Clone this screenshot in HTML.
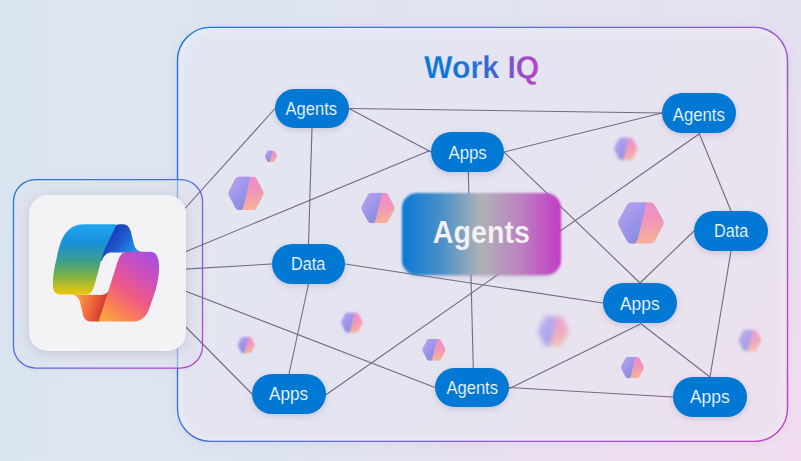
<!DOCTYPE html>
<html><head><meta charset="utf-8">
<style>
html,body{margin:0;padding:0;width:801px;height:461px;overflow:hidden;}
body{background:radial-gradient(ellipse 520px 380px at 100% 100%,rgba(242,222,240,1) 0%,rgba(242,222,240,0.6) 45%,rgba(242,222,240,0) 100%),linear-gradient(90deg,#dbe5f1 0%,#dde4f0 35%,#e2e2f0 70%,#e5e0f0 100%);font-family:"Liberation Sans",sans-serif;}
svg{position:absolute;left:0;top:0;}
</style></head>
<body>
<svg width="801" height="461" viewBox="0 0 801 461">
<defs>
  <linearGradient id="bigBorder" x1="177" y1="27" x2="811" y2="413" gradientUnits="userSpaceOnUse">
    <stop offset="0" stop-color="#1677d8"/>
    <stop offset="0.2" stop-color="#3a74d8"/>
    <stop offset="0.4" stop-color="#5070d8"/>
    <stop offset="0.55" stop-color="#7462d4"/>
    <stop offset="0.7" stop-color="#9a54d0"/>
    <stop offset="0.85" stop-color="#b04cd0"/>
    <stop offset="1" stop-color="#bc42c8"/>
  </linearGradient>
  <linearGradient id="bigFill" x1="177" y1="27" x2="788" y2="441" gradientUnits="userSpaceOnUse">
    <stop offset="0" stop-color="#e2e7f2"/>
    <stop offset="0.5" stop-color="#e5e4f0"/>
    <stop offset="1" stop-color="#ede1ef"/>
  </linearGradient>
  <linearGradient id="smallBorder" x1="13" y1="179" x2="203" y2="368" gradientUnits="userSpaceOnUse">
    <stop offset="0" stop-color="#1677d8"/>
    <stop offset="0.5" stop-color="#5070d8"/>
    <stop offset="0.72" stop-color="#8a58d4"/>
    <stop offset="1" stop-color="#c040c8"/>
  </linearGradient>
  <linearGradient id="hexL" x1="0" y1="0.1" x2="0.55" y2="0.9">
    <stop offset="0" stop-color="#b8a2f2"/>
    <stop offset="1" stop-color="#8c8ee6"/>
  </linearGradient>
  <linearGradient id="hexR" x1="0" y1="0" x2="0.15" y2="1">
    <stop offset="0" stop-color="#ec8ece"/>
    <stop offset="0.5" stop-color="#f094bc"/>
    <stop offset="1" stop-color="#f6b09a"/>
  </linearGradient>
  <linearGradient id="center" x1="402" y1="0" x2="561" y2="0" gradientUnits="userSpaceOnUse">
    <stop offset="0" stop-color="#0b78d4"/>
    <stop offset="0.25" stop-color="#4a90c8"/>
    <stop offset="0.5" stop-color="#b0b2b6"/>
    <stop offset="0.75" stop-color="#bc80c0"/>
    <stop offset="1" stop-color="#c23cc6"/>
  </linearGradient>
  <linearGradient id="title" x1="425" y1="0" x2="539" y2="0" gradientUnits="userSpaceOnUse">
    <stop offset="0" stop-color="#0a78d6"/>
    <stop offset="0.3" stop-color="#1474d6"/>
    <stop offset="0.5" stop-color="#2a6cd4"/>
    <stop offset="0.66" stop-color="#4a60d0"/>
    <stop offset="0.76" stop-color="#8050c8"/>
    <stop offset="1" stop-color="#c040c8"/>
  </linearGradient>
  <filter id="boxShadow" x="-10%" y="-10%" width="120%" height="120%" color-interpolation-filters="sRGB"><feDropShadow dx="0" dy="1" stdDeviation="5" flood-color="#6a5a90" flood-opacity="0.10"/></filter>
  <filter id="blurGlow" x="-10%" y="-10%" width="120%" height="120%"><feGaussianBlur stdDeviation="1.5"/></filter>
  <filter id="blurS" x="-50%" y="-50%" width="200%" height="200%"><feGaussianBlur stdDeviation="0.7"/></filter>
  <filter id="blurH9b" x="-50%" y="-50%" width="200%" height="200%"><feGaussianBlur stdDeviation="2.4"/></filter>
  <filter id="blur1" x="-50%" y="-50%" width="200%" height="200%"><feGaussianBlur stdDeviation="1"/></filter>
  <filter id="blur2" x="-50%" y="-50%" width="200%" height="200%"><feGaussianBlur stdDeviation="2"/></filter>
  <filter id="blurH4" x="-50%" y="-50%" width="200%" height="200%"><feGaussianBlur stdDeviation="1.3"/></filter>
  <filter id="blurH6" x="-50%" y="-50%" width="200%" height="200%"><feGaussianBlur stdDeviation="0.9"/></filter>
  <filter id="blurH9" x="-50%" y="-50%" width="200%" height="200%"><feGaussianBlur stdDeviation="1.8"/></filter>
  <filter id="blurC" x="-20%" y="-20%" width="140%" height="140%"><feGaussianBlur stdDeviation="1.2"/></filter>
  <filter id="pillShadow" color-interpolation-filters="sRGB" x="-30%" y="-50%" width="160%" height="200%">
    <feDropShadow dx="0" dy="2" stdDeviation="3" flood-color="#503070" flood-opacity="0.18"/>
  </filter>
  <filter id="cardShadow" color-interpolation-filters="sRGB" x="-30%" y="-30%" width="160%" height="160%">
    <feDropShadow dx="0" dy="2" stdDeviation="5" flood-color="#404070" flood-opacity="0.16"/>
  </filter>
  <symbol id="hex" viewBox="0 0 100 92" preserveAspectRatio="none">
    <path d="M4.2 54.0 Q0.0 46.0 4.2 38.0 L20.8 6.2 Q24.0 0.0 31.0 0.0 L69.0 0.0 Q76.0 0.0 79.2 6.2 L95.8 38.0 Q100.0 46.0 95.8 54.0 L79.2 85.8 Q76.0 92.0 69.0 92.0 L31.0 92.0 Q24.0 92.0 20.8 85.8 Z" fill="url(#hexR)"/>
    <path d="M62 0 L31.0 0.0 Q24 0 20.8 6.2 L4.2 38.0 Q0 46 4.2 54.0 L20.8 85.8 Q24 92 31.0 92.0 L37 92 Q43 86 46 70 Z" fill="url(#hexL)"/>
  </symbol>
  <linearGradient id="cpL" x1="0" y1="224" x2="0" y2="295" gradientUnits="userSpaceOnUse">
    <stop offset="0" stop-color="#22a6f0"/>
    <stop offset="0.25" stop-color="#1690dc"/>
    <stop offset="0.52" stop-color="#3c9c8c"/>
    <stop offset="0.72" stop-color="#78b048"/>
    <stop offset="0.9" stop-color="#c8c020"/>
    <stop offset="1" stop-color="#eec400"/>
  </linearGradient>
  <linearGradient id="cpFold" x1="112" y1="232" x2="136" y2="250" gradientUnits="userSpaceOnUse">
    <stop offset="0" stop-color="#1a3cbc"/>
    <stop offset="0.5" stop-color="#2060d0"/>
    <stop offset="1" stop-color="#1e96ea"/>
  </linearGradient>
  <linearGradient id="cpR" x1="160" y1="252" x2="110" y2="322" gradientUnits="userSpaceOnUse">
    <stop offset="0" stop-color="#9c50e6"/>
    <stop offset="0.35" stop-color="#d050b8"/>
    <stop offset="0.6" stop-color="#f05a84"/>
    <stop offset="0.82" stop-color="#f88058"/>
    <stop offset="1" stop-color="#f8a440"/>
  </linearGradient>
  <linearGradient id="cpFold2" x1="78" y1="298" x2="106" y2="307" gradientUnits="userSpaceOnUse">
    <stop offset="0" stop-color="#fa9a48"/>
    <stop offset="0.5" stop-color="#f06838"/>
    <stop offset="1" stop-color="#cc3430"/>
  </linearGradient>
</defs>

<!-- big box -->
<rect x="177.5" y="27.4" width="610" height="414" rx="33" fill="url(#bigFill)" filter="url(#boxShadow)"/>
<rect x="181" y="31" width="603" height="407" rx="30" fill="none" stroke="#ffffff" stroke-opacity="0.2" stroke-width="3" filter="url(#blurGlow)"/>
<rect x="177.5" y="27.4" width="610" height="414" rx="33" fill="none" stroke="url(#bigBorder)" stroke-width="1.4"/>

<!-- small box -->
<rect x="13.5" y="179.5" width="189" height="188.5" rx="22" fill="#e2e5f1" fill-opacity="0.55" filter="url(#boxShadow)"/>
<rect x="13.5" y="179.5" width="189" height="188.5" rx="22" fill="none" stroke="url(#smallBorder)" stroke-width="1.25"/>

<!-- lines -->
<g stroke="#746a80" stroke-width="1.1" fill="none">
  <line x1="180" y1="214" x2="275" y2="108.5"/>
  <line x1="180" y1="253.9" x2="430" y2="150.6"/>
  <line x1="180" y1="269.4" x2="272" y2="264"/>
  <line x1="180" y1="289" x2="435" y2="387.5"/>
  <line x1="180" y1="321" x2="252" y2="394"/>
  <line x1="349" y1="108.5" x2="662" y2="113"/>
  <line x1="349" y1="108.5" x2="431" y2="152"/>
  <line x1="312" y1="128" x2="308.5" y2="244"/>
  <line x1="504" y1="152" x2="662" y2="113"/>
  <line x1="468.3" y1="172" x2="473.3" y2="368"/>
  <line x1="504" y1="152" x2="640" y2="283"/>
  <line x1="699" y1="133" x2="731" y2="211"/>
  <line x1="699" y1="134" x2="326" y2="394.8"/>
  <line x1="694" y1="231" x2="640" y2="283"/>
  <line x1="731" y1="251" x2="710" y2="377"/>
  <line x1="345" y1="264" x2="603" y2="303"/>
  <line x1="308.5" y1="284" x2="289" y2="374"/>
  <line x1="640" y1="323" x2="710" y2="377"/>
  <line x1="640" y1="324.2" x2="509" y2="388.7"/>
  <line x1="509" y1="387.5" x2="673" y2="397"/>
</g>

<!-- card -->
<rect x="29" y="195" width="157" height="156" rx="18.5" fill="#f3f3f6" filter="url(#cardShadow)"/>

<!-- copilot logo -->
<g>
  <path d="M100 252.4 L113 228 Q115.5 224.3 120 224.3 L123.5 224.3 Q128.5 224.3 130.8 231.5 L133.8 244 Q136 252.4 144 252.4 L110.8 252.4 Q105 252.6 101.6 261 L97 261 Z" fill="url(#cpFold)"/>
  <path d="M72 294.5 Q78 295 80 302 L83 315 Q85 321.4 90 321.4 L100 321.4 L112 284 Q109 295 101 295 Z" fill="url(#cpFold2)"/>
  <path d="M84 224.3 L115.5 224.3 Q117 224.3 114 230 Q109 240 104.5 250 Q101.5 257 100 265 L94 287 Q91.5 294.5 86 294.5 L60 294.5 Q52.5 294.5 52.8 284 Q53 272 56.5 259 C59.5 245 63.5 224.3 84 224.3 Z" fill="url(#cpL)"/>
  <path d="M128 251.8 L150 251.8 Q158.5 251.8 159 265 Q159.5 277 155 292 L150.5 305 Q146 321.4 134 321.4 L98.6 321.4 L117.5 262 Q120 251.8 128 251.8 Z" fill="url(#cpR)"/>
</g>

<!-- hexagons -->
<use href="#hex" x="264.8" y="150.6" width="12.4" height="11.4" filter="url(#blurS)"/>
<use href="#hex" x="227.8" y="176.6" width="36.5" height="33.5"/>
<use href="#hex" x="360.8" y="192.8" width="34.5" height="30.5"/>
<use href="#hex" x="613.8" y="137.5" width="24" height="22.5" filter="url(#blurH9)" opacity="0.95"/>
<use href="#hex" x="617.2" y="202.2" width="47.5" height="41.5"/>
<use href="#hex" x="340.7" y="312.4" width="22.2" height="20.4" filter="url(#blurH6)"/>
<use href="#hex" x="237.4" y="336.9" width="17.6" height="16.4" filter="url(#blurH6)"/>
<use href="#hex" x="422" y="339" width="24" height="21.7"/>
<use href="#hex" x="537.3" y="316" width="32" height="30" filter="url(#blurH9b)" opacity="0.75"/>
<use href="#hex" x="620.7" y="356.7" width="23.6" height="21.5"/>
<use href="#hex" x="738.3" y="329.6" width="23.4" height="21.6" filter="url(#blurH9)" opacity="0.8"/>

<!-- pills -->
<g fill="#0078d4" filter="url(#pillShadow)">
  <rect x="275" y="89" width="74" height="39" rx="19.5"/>
  <rect x="662" y="93" width="74" height="40" rx="20"/>
  <rect x="431" y="132" width="73" height="40" rx="20"/>
  <rect x="694" y="211" width="74" height="40" rx="20"/>
  <rect x="272" y="244" width="73" height="40" rx="20"/>
  <rect x="603" y="283" width="74" height="40" rx="20"/>
  <rect x="252" y="374" width="74" height="40" rx="20"/>
  <rect x="435" y="368" width="74" height="39" rx="19.5"/>
  <rect x="673" y="377" width="74" height="40" rx="20"/>
</g>
<g fill="#ffffff" stroke="#0078d4" stroke-width="0.2" font-family="Liberation Sans, sans-serif" font-size="17.5">
  <text x="285.60" y="115.20" textLength="51.40" lengthAdjust="spacingAndGlyphs">Agents</text>
  <text x="672.80" y="120.60" textLength="52.00" lengthAdjust="spacingAndGlyphs">Agents</text>
  <text x="448.40" y="158.80" textLength="38.40" lengthAdjust="spacingAndGlyphs">Apps</text>
  <text x="714.00" y="237.20" textLength="34.20" lengthAdjust="spacingAndGlyphs">Data</text>
  <text x="291.00" y="270.20" textLength="34.40" lengthAdjust="spacingAndGlyphs">Data</text>
  <text x="620.00" y="310.20" textLength="39.60" lengthAdjust="spacingAndGlyphs">Apps</text>
  <text x="269.00" y="400.40" textLength="39.00" lengthAdjust="spacingAndGlyphs">Apps</text>
  <text x="446.40" y="393.80" textLength="51.60" lengthAdjust="spacingAndGlyphs">Agents</text>
  <text x="690.00" y="403.20" textLength="39.60" lengthAdjust="spacingAndGlyphs">Apps</text>
</g>

<!-- center box -->
<rect x="404" y="197" width="155" height="80" rx="15" fill="#5a4a80" fill-opacity="0.22" filter="url(#blur2)"/>
<rect x="402" y="193" width="159" height="82" rx="15" fill="url(#center)" filter="url(#blurC)"/>
<text x="432.8" y="242.5" textLength="97.2" lengthAdjust="spacingAndGlyphs" font-family="Liberation Sans, sans-serif" font-weight="bold" font-size="31.5" fill="#f4f2f6" stroke="url(#center)" stroke-width="0.15">Agents</text>

<!-- title -->
<text x="424" y="78" font-family="Liberation Sans, sans-serif" font-weight="bold" font-size="30.5" fill="url(#title)" stroke="#e3e4f0" stroke-width="0.25" textLength="115.4" lengthAdjust="spacingAndGlyphs">Work IQ</text>

</svg>
</body></html>
